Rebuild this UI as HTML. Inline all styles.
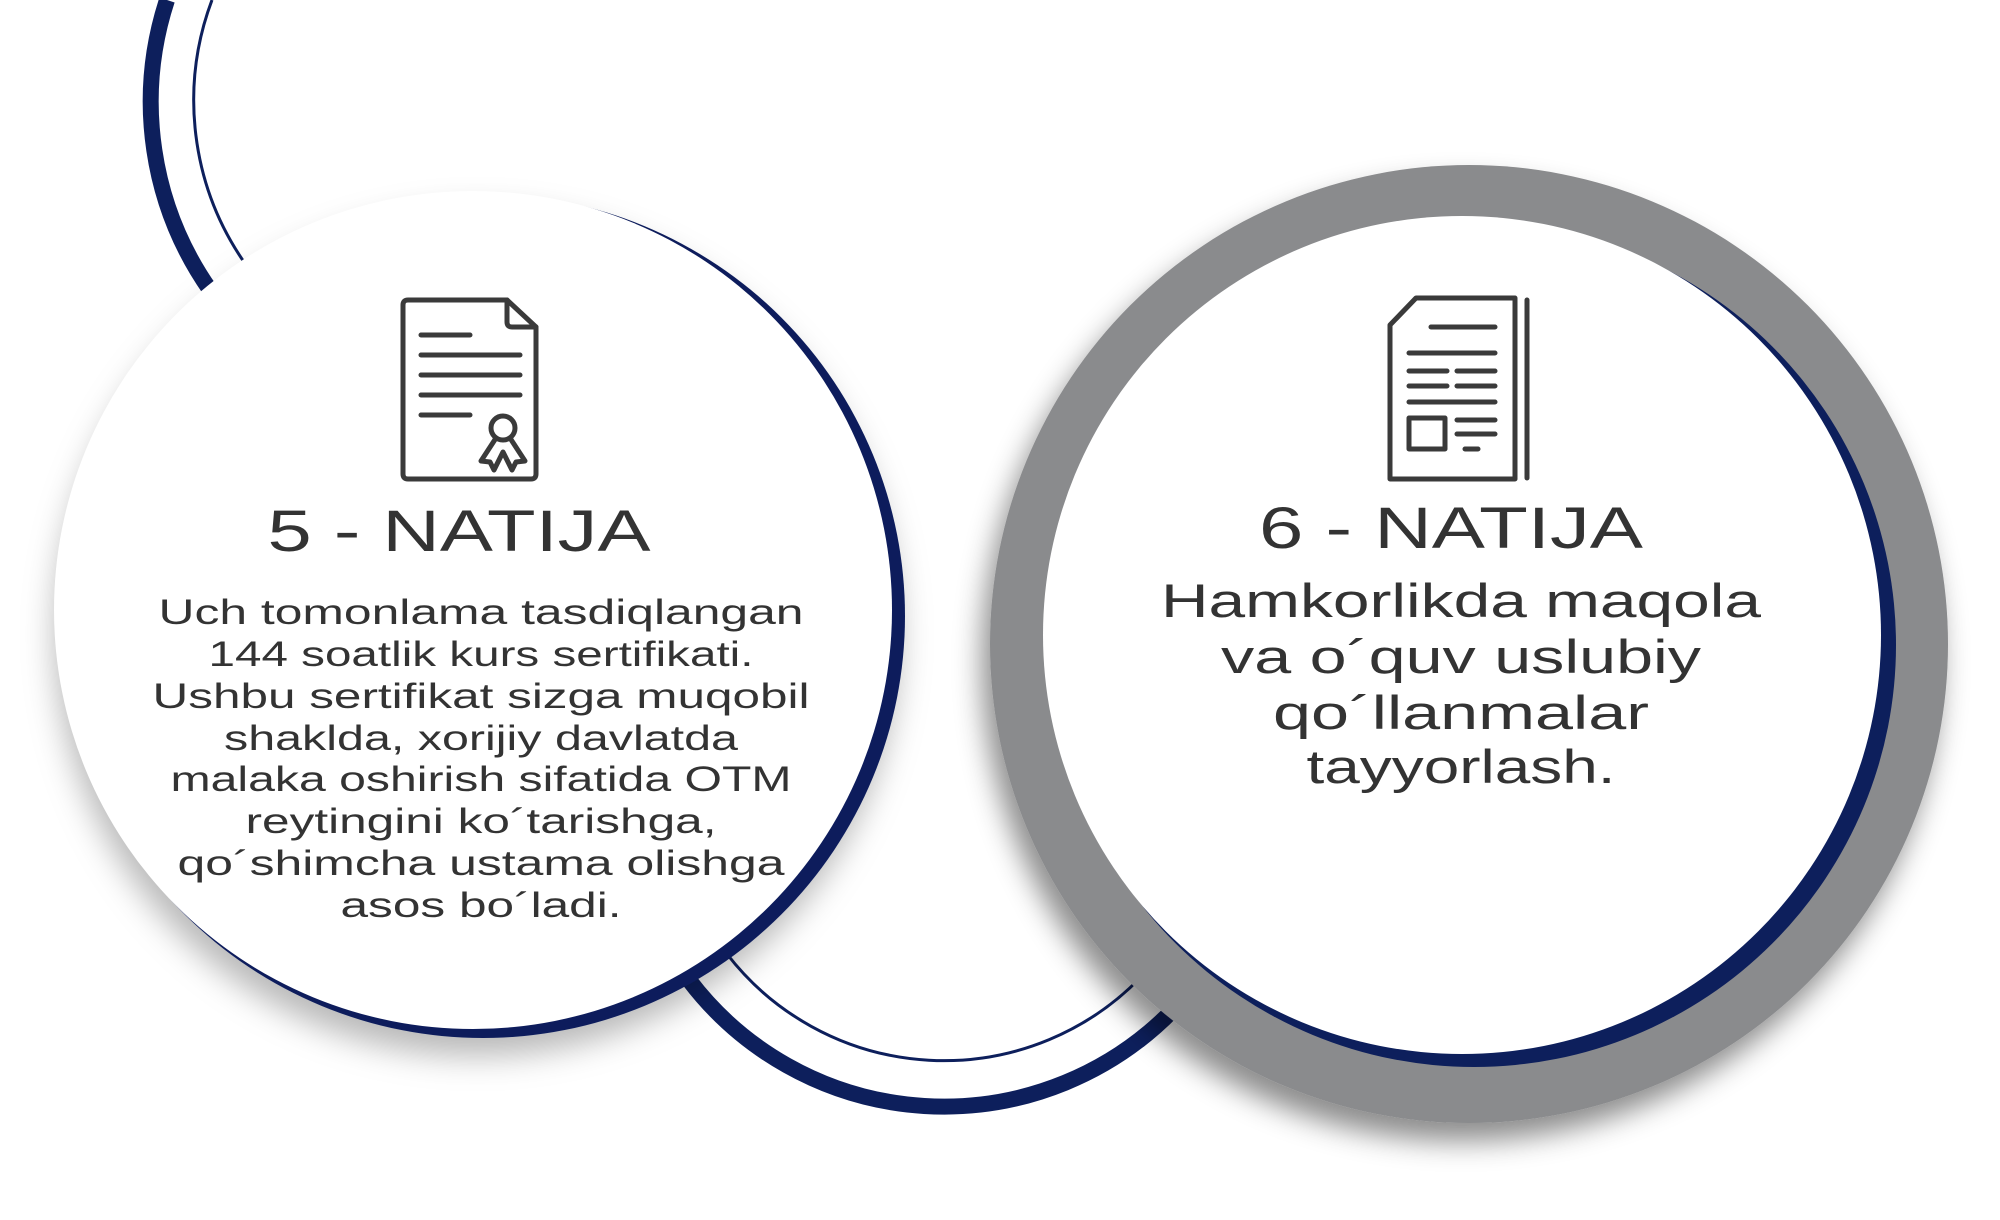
<!DOCTYPE html>
<html><head><meta charset="utf-8"><style>
html,body{margin:0;padding:0;background:#fff;}
svg{display:block;}
</style></head><body>
<svg width="2000" height="1220" viewBox="0 0 2000 1220" xmlns="http://www.w3.org/2000/svg">
<defs>
<filter id="sh" x="-30%" y="-30%" width="160%" height="160%">
<feDropShadow dx="-6" dy="18" stdDeviation="16" flood-color="#000" flood-opacity="0.28"/>
</filter>
<filter id="sh2" x="-30%" y="-30%" width="160%" height="160%">
<feDropShadow dx="-8" dy="18" stdDeviation="14" flood-color="#000" flood-opacity="0.45"/>
</filter>
</defs>
<rect width="2000" height="1220" fill="#fff"/>
<!-- top arcs -->
<path d="M167,0 A328 328 0 0 0 210,290" fill="none" stroke="#0d1f5c" stroke-width="16"/>
<path d="M212,0 A285 285 0 0 0 244,262" fill="none" stroke="#0d1f5c" stroke-width="3"/>
<!-- bottom arcs -->
<path d="M689,980 A320 320 0 0 0 1173,1010" fill="none" stroke="#0d1f5c" stroke-width="16"/>
<path d="M727,954 A274 274 0 0 0 1141,977" fill="none" stroke="#0d1f5c" stroke-width="3"/>
<!-- left circle -->
<circle cx="483" cy="616" r="422" fill="#0d1f5c" filter="url(#sh)"/>
<circle cx="473" cy="610" r="419" fill="#fff"/>
<!-- right circle -->
<circle cx="1469" cy="644" r="479" fill="#8a8b8d" filter="url(#sh2)"/>
<circle cx="1474" cy="645" r="422" fill="#0d1f5c"/>
<circle cx="1462" cy="635" r="419" fill="#fff"/>
<!-- left icon -->
<g fill="none" stroke="#3a3a3a" stroke-width="5" stroke-linecap="round" stroke-linejoin="round">
<path d="M408,300 H507 L536,327 V474 Q536,479 531,479 H408 Q403,479 403,474 V305 Q403,300 408,300 Z"/>
<path d="M507,300 V322 Q507,327 512,327 H536"/>
<path d="M421,335 H470 M421,355 H520 M421,375 H520 M421,395 H520 M421,415 H470"/>
<circle cx="503" cy="428" r="12"/>
<path d="M496,438 L481,461 L490,462 L494,470 L503,452 L512,470 L516,462 L525,461 L510,438"/>
</g>
<!-- right icon -->
<g fill="none" stroke="#3a3a3a" stroke-width="5" stroke-linecap="round" stroke-linejoin="round">
<path d="M1416,298 H1515 V479 H1390 V325 Z"/>
<path d="M1527,300 V478"/>
<path d="M1431,327 H1495 M1409,353 H1495 M1409,371 H1447 M1457,371 H1495 M1409,386 H1447 M1457,386 H1495 M1409,402 H1495 M1457,420 H1495 M1457,434 H1495 M1465,449 H1478"/>
<rect x="1409" y="418" width="36" height="31"/>
</g>
<!-- texts -->
<g font-family="'Liberation Sans', 'DejaVu Sans', sans-serif" fill="#333" text-anchor="middle">
<text x="459" y="551" font-size="58" textLength="383" lengthAdjust="spacingAndGlyphs">5 - NATIJA</text>
<g font-size="35">
<text x="481" y="624" textLength="645" lengthAdjust="spacingAndGlyphs">Uch tomonlama tasdiqlangan</text>
<text x="481" y="666" textLength="545" lengthAdjust="spacingAndGlyphs">144 soatlik kurs sertifikati.</text>
<text x="481" y="708" textLength="657" lengthAdjust="spacingAndGlyphs">Ushbu sertifikat sizga muqobil</text>
<text x="481" y="750" textLength="514" lengthAdjust="spacingAndGlyphs">shaklda, xorijiy davlatda</text>
<text x="481" y="791" textLength="621" lengthAdjust="spacingAndGlyphs">malaka oshirish sifatida OTM</text>
<text x="481" y="833" textLength="471" lengthAdjust="spacingAndGlyphs">reytingini ko´tarishga,</text>
<text x="481" y="875" textLength="607" lengthAdjust="spacingAndGlyphs">qo´shimcha ustama olishga</text>
<text x="481" y="917" textLength="281" lengthAdjust="spacingAndGlyphs">asos bo´ladi.</text>
</g>
<text x="1451" y="548" font-size="58" textLength="384" lengthAdjust="spacingAndGlyphs">6 - NATIJA</text>
<g font-size="47">
<text x="1461" y="617" textLength="600" lengthAdjust="spacingAndGlyphs">Hamkorlikda maqola</text>
<text x="1461" y="673" textLength="480" lengthAdjust="spacingAndGlyphs">va o´quv uslubiy</text>
<text x="1461" y="729" textLength="376" lengthAdjust="spacingAndGlyphs">qo´llanmalar</text>
<text x="1461" y="783" textLength="309" lengthAdjust="spacingAndGlyphs">tayyorlash.</text>
</g>
</g>
</svg>
</body></html>
